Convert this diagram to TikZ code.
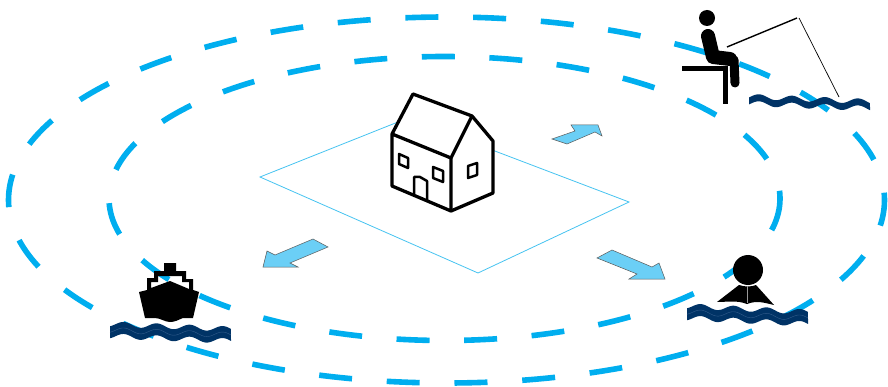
\documentclass[tikz,border=0pt]{standalone}
\usepackage{amsmath}
\usetikzlibrary{calc}

\definecolor{ringblue}{RGB}{0,174,239}
\definecolor{plotblue}{RGB}{70,195,240}
\definecolor{arrowblue}{RGB}{107,207,246}
\definecolor{wavenavy}{RGB}{0,51,102}
\definecolor{waveline}{RGB}{50,92,140}

\tikzset{
  ring/.style={ringblue, line width=5.6pt},
  houseline/.style={black, line width=3.3pt, line join=round},
  flowarrow/.style={fill=arrowblue, draw=black!65, line width=0.5pt},
}

% x y length drop height phase
\newcommand{\waveband}[6]{
  \fill[wavenavy] plot[domain=0:1, samples=81, smooth]
    ({#1+\x*#3},{#2+\x*#4-2.6*sin(\x*#3*10.9+#6)-#5/2})
    -- plot[domain=1:0, samples=81, smooth]
    ({#1+\x*#3},{#2+\x*#4-2.6*sin(\x*#3*10.9+#6)+#5/2}) -- cycle;
}
\newcommand{\waveseam}[5]{
  \draw[waveline, line width=0.4pt] plot[domain=0:1, samples=81, smooth]
    ({#1+\x*#3},{#2+\x*#4-2.6*sin(\x*#3*10.9+#5)});
}

\begin{document}
\begin{tikzpicture}[x=1pt, y=-1pt]
  \useasboundingbox (0,0) rectangle (888,387);

  % ground plot
  \coordinate (PL) at (260,177);
  \coordinate (PB) at (478,273);
  \coordinate (PR) at (629,202);
  \coordinate (PT) at (408,118);
  \draw[plotblue, line width=0.8pt] (PL)--(PB)--(PR)--(PT)--cycle;

  % distance rings
  \draw[ring, dash pattern=on 33pt off 34.8pt, dash phase=7pt]
    (446.5,200) ellipse [x radius=438, y radius=183];
  \draw[ring, dash pattern=on 33pt off 34.6pt]
    (444.5,198.5) ellipse [x radius=335.5, y radius=142];

  % house
  \coordinate (A) at (392,134);
  \coordinate (B) at (451,158);
  \coordinate (C) at (451,211);
  \coordinate (D) at (392,186);
  \coordinate (E) at (493,193);
  \coordinate (F) at (493,141);
  \coordinate (G) at (472,116);
  \coordinate (H) at (413,94);
  \fill[white] (A)--(H)--(G)--(F)--(E)--(C)--(D)--cycle;
  \draw[houseline] (A)--(B)--(C)--(D)--cycle;
  \draw[houseline] (B)--(G)--(F)--(E)--(C);
  \draw[houseline] (A)--(H)--(G);
  \draw[houseline, line width=2.5pt] (399,154)--(408,158)--(408,168)--(399,164)--cycle;
  \draw[houseline, line width=2.5pt] (433,167)--(443,171)--(443,182)--(433,178)--cycle;
  \draw[houseline, line width=2.5pt] (468,166)--(477,163)--(477,175)--(468,178)--cycle;
  \draw[houseline, line width=2.5pt] (414,194)--(414,177)--(420,177)--(427,181)--(427,201);

  % arrows
  \draw[flowarrow] (552,139)--(575,131)--(571,125)--(598,125)--(602,136)--(595,132)--(567,144)--cycle;
  \draw[flowarrow] (328,247)--(313,239)--(275,255)--(267,251)--(263,267)--(298,267)--(290,263)--cycle;
  \draw[flowarrow] (597,258)--(612,250)--(652,267)--(659,263)--(665,279)--(629,279)--(637,274)--cycle;

  % fisher
  \fill (707,18) circle (8);
  \draw[line width=14pt, line cap=round, line join=round] (708,36)--(713,57)--(730,59);
  \draw[line width=9pt, line cap=round, line join=round] (729,59)--(734,60)--(735,83);
  \draw[line width=5pt] (682,69)--(725,69)--(725,104);
  \draw[line width=1.4pt] (727,47)--(797,18);
  \draw[line width=0.7pt] (799,18)--(839,97);
  \waveband{749}{100}{121}{5}{7}{-20}

  % ship
  \fill[even odd rule] (164,263)--(176,263)--(176,271)--(186,271)--(186,279)--(193,279)--(193,290)
    --(199,292)--(193,318)--(183,318)
    .. controls (178,320) and (175,322) .. (170,322)
    .. controls (165,322) and (160,318) .. (155,318)
    --(145,318)--(139,292)--(147,290)--(147,278)--(154,278)--(154,271)--(164,271)--cycle
    (151,288)--(151,282)--(158,282)--(158,276)--(182,276)--(182,282)--(189,282)--(189,289)--(170,281)--cycle;
  \waveband{110}{330}{121}{5}{12}{-60}
  \waveseam{110}{330}{121}{5}{-60}

  % buoy
  \fill (748,270) circle (15);
  \fill (739,285) .. controls (745,287) and (751,287) .. (756,285)
    --(774,305)
    .. controls (765,303) and (757,300) .. (747,304)
    .. controls (737,300) and (727,302) .. (717,302)--cycle;
  \draw[white!60!black, line width=0.4pt] (747,286)--(747,303);
  \waveband{687}{312}{121}{6}{12}{-60}
  \waveseam{687}{312}{121}{6}{-60}
\end{tikzpicture}
\end{document}
